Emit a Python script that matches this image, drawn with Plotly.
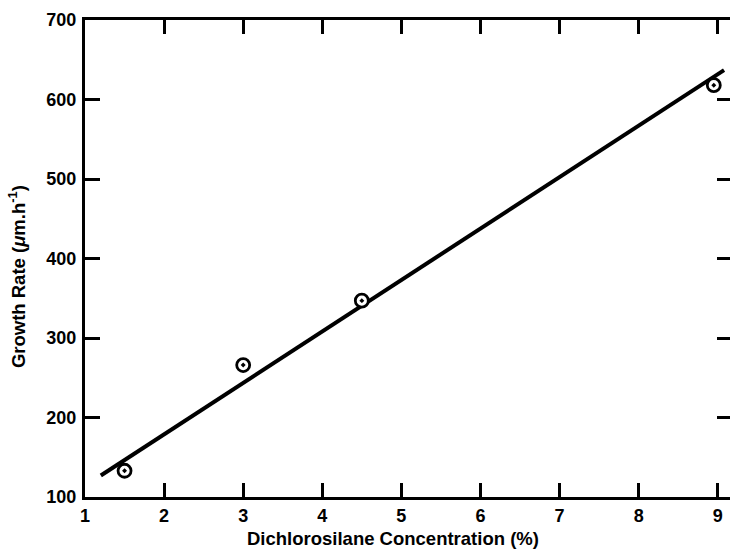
import plotly.graph_objects as go

# Data
conc = [1.5, 3.0, 4.5, 8.95]
rate = [133, 266, 347, 618]
fit_x = [1.2, 9.08]
fit_y = [127, 637]
x_ticks = [1, 2, 3, 4, 5, 6, 7, 8, 9]
y_ticks = [100, 200, 300, 400, 500, 600, 700]
x_title = "Dichlorosilane Concentration (%)"
y_title = "Growth Rate (<i>μ</i>m.h<sup>-1</sup>)"

FONT = "Liberation Sans"
TICKFONT = dict(size=18, family=FONT, weight="bold", color="black")

fig = go.Figure()
fig.add_trace(go.Scatter(x=fit_x, y=fit_y, mode="lines",
                         line=dict(color="black", width=4), showlegend=False))
fig.add_trace(go.Scatter(x=conc, y=rate, mode="markers",
                         marker=dict(symbol="circle-dot", size=13, color="white",
                                     line=dict(color="black", width=2.8)),
                         showlegend=False))
# invisible trace to activate right-side tick axis
fig.add_trace(go.Scatter(x=[None], y=[None], yaxis="y2", showlegend=False))

fig.update_layout(
    width=730, height=550,
    margin=dict(l=85, r=0, t=20, b=53),
    paper_bgcolor="white", plot_bgcolor="white",
    font=dict(family=FONT, color="black"),
    xaxis=dict(range=[1, 9.155], tickvals=x_ticks, ticktext=[str(v) for v in x_ticks],
               showgrid=False, zeroline=False, showline=True, linecolor="black",
               linewidth=3, mirror="ticks", ticks="inside", ticklen=14, tickwidth=2.5,
               tickcolor="black", tickfont=TICKFONT),
    yaxis=dict(range=[100, 700], tickvals=y_ticks, ticktext=[str(v) for v in y_ticks],
               showgrid=False, zeroline=False, showline=True, linecolor="black",
               linewidth=3, ticks="inside", ticklen=15, tickwidth=2.5, tickcolor="black",
               tickfont=TICKFONT, ticklabelstandoff=2),
    yaxis2=dict(range=[100, 700], overlaying="y", side="right", tickvals=y_ticks,
                showticklabels=False, showgrid=False, zeroline=False, showline=False,
                ticks="inside", ticklen=13, tickwidth=2.5, tickcolor="black"),
    annotations=[
        dict(text=x_title, xref="paper", yref="paper", x=0.4775, y=-0.086,
             xanchor="center", yanchor="middle", showarrow=False,
             font=dict(size=18.5, family=FONT, weight="bold", color="black")),
        dict(text=y_title, xref="paper", yref="paper", x=-0.1054, y=0.461,
             xanchor="center", yanchor="middle", showarrow=False, textangle=-90,
             font=dict(size=18.5, family=FONT, weight="bold", color="black")),
    ],
)
fig.write_html("out.html")
